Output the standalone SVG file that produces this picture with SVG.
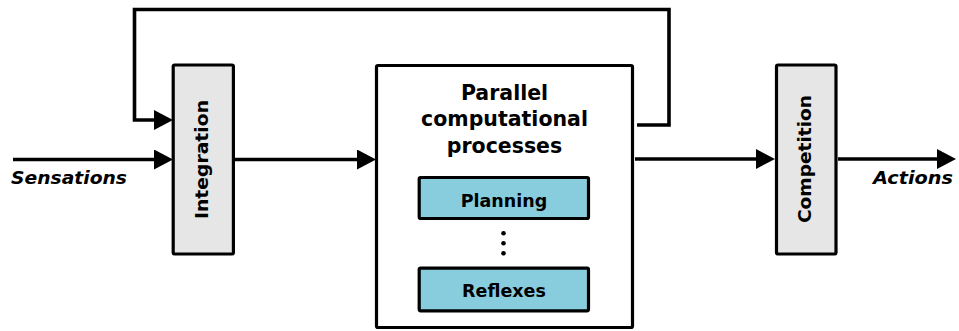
<svg xmlns="http://www.w3.org/2000/svg" width="959" height="331" viewBox="0 0 959 331">
<style>
.box{stroke:#000;stroke-width:3.2;}
.grey{fill:#e6e6e6;}
.white{fill:#fff;}
.blue{fill:#88cddd;}
.lbl{font-family:"DejaVu Sans","Liberation Sans",sans-serif;font-weight:bold;fill:#000;}
.conn{fill:none;stroke:#000;stroke-width:3.6;stroke-linejoin:miter;}
</style>
<defs>
<marker id="arr" markerUnits="userSpaceOnUse" markerWidth="19" markerHeight="21" refX="9" refY="10" orient="auto">
<path d="M0,0 L19,10 L0,20 Z" fill="#000"/>
</marker>
</defs>
<rect width="959" height="331" fill="#fff"/>
<g id="connectors">
<path class="conn" d="M13,159.5 H163" marker-end="url(#arr)"/>
<path class="conn" d="M637,125 H669 V9.5 H134.5 V120 H163" marker-end="url(#arr)"/>
<path class="conn" d="M235,159.5 H366" marker-end="url(#arr)"/>
<path class="conn" d="M635,159 H765" marker-end="url(#arr)"/>
<path class="conn" d="M838,159 H946" marker-end="url(#arr)"/>
</g>
<g id="sensations">
<text class="lbl" x="11" y="184" font-size="17.3" font-style="italic" textLength="116" lengthAdjust="spacingAndGlyphs">Sensations</text>
</g>
<g id="integration">
<rect class="box grey" x="173.2" y="65" width="60.2" height="189" rx="1.5"/>
<text class="lbl" font-size="17.3" text-anchor="middle" transform="translate(208,159.5) rotate(-90)" textLength="119" lengthAdjust="spacingAndGlyphs">Integration</text>
</g>
<g id="parallel">
<rect class="box white" x="376.5" y="65.5" width="256" height="262" rx="1.5"/>
<text class="lbl" font-size="20.5" text-anchor="middle" x="504.5" y="100">Parallel</text>
<text class="lbl" font-size="20.5" text-anchor="middle" x="504.5" y="126.3">computational</text>
<text class="lbl" font-size="20.5" text-anchor="middle" x="504.5" y="152.5">processes</text>
</g>
<g id="planning">
<rect class="box blue" x="419.2" y="177.5" width="169.3" height="41" rx="1.5"/>
<text class="lbl" font-size="17.5" text-anchor="middle" x="504" y="207">Planning</text>
</g>
<g id="dots">
<circle cx="503.5" cy="233.3" r="2.3" fill="#000"/>
<circle cx="503.5" cy="243.3" r="2.3" fill="#000"/>
<circle cx="503.5" cy="253.3" r="2.3" fill="#000"/>
</g>
<g id="reflexes">
<rect class="box blue" x="419.2" y="268.2" width="169.3" height="42.6" rx="1.5"/>
<text class="lbl" font-size="17.5" text-anchor="middle" x="504" y="297">Reflexes</text>
</g>
<g id="competition">
<rect class="box grey" x="776.5" y="65" width="59.5" height="189" rx="1.5"/>
<text class="lbl" font-size="17.3" text-anchor="middle" transform="translate(811,159) rotate(-90)" textLength="128" lengthAdjust="spacingAndGlyphs">Competition</text>
</g>
<g id="actions">
<text class="lbl" x="873" y="183.5" font-size="17.3" font-style="italic" textLength="80" lengthAdjust="spacingAndGlyphs">Actions</text>
</g>
</svg>
